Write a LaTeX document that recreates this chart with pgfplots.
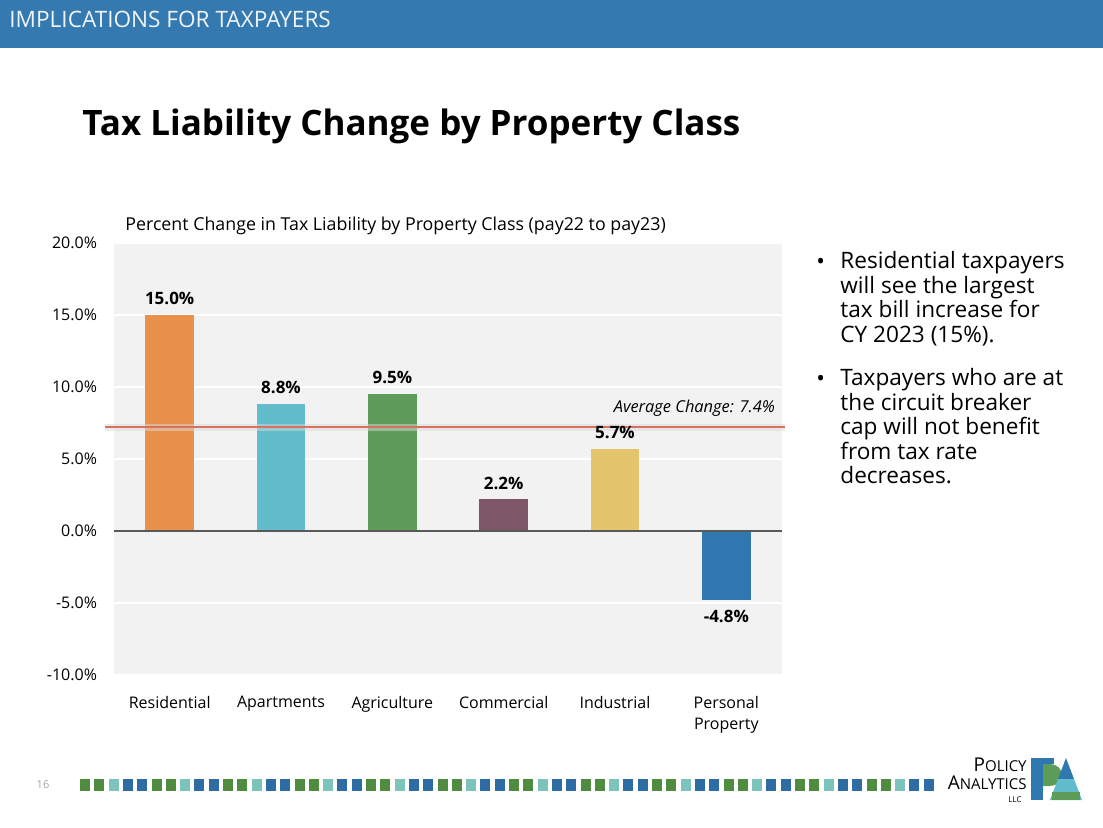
\documentclass[border=0pt]{standalone}
\usepackage{pgfplots}
\pgfplotsset{compat=1.18}
\usepackage{fontspec}
\setmainfont{Open Sans}
\definecolor{hdr}{HTML}{3479AF}
\definecolor{plotbg}{HTML}{F2F2F2}
\definecolor{cres}{HTML}{E9914A}
\definecolor{capt}{HTML}{62BCCB}
\definecolor{cagr}{HTML}{5E9C5A}
\definecolor{ccom}{HTML}{7D5767}
\definecolor{cind}{HTML}{E3C56C}
\definecolor{cper}{HTML}{2F77AF}
\definecolor{cavg}{HTML}{D6735F}
\definecolor{czero}{HTML}{595959}
\definecolor{sq0}{HTML}{4F8C3F}
\definecolor{sq1}{HTML}{4F8C3F}
\definecolor{sq2}{HTML}{7CC3BB}
\definecolor{sq3}{HTML}{2E6DA4}
\definecolor{sq4}{HTML}{2E6DA4}
\definecolor{pblue}{HTML}{2F77AF}
\definecolor{pgreen}{HTML}{5E9C5A}
\definecolor{pteal}{HTML}{62BCCB}
\pgfplotsset{
  mybar/.style={ybar, bar width=0.44, bar shift=0pt, fill=#1, draw=none,
    nodes near coords, point meta=explicit symbolic,
    nodes near coords style={font=\fontsize{8.5}{10}\selectfont\bfseries, text=black, yshift=1.5pt}},
}
\begin{document}
\begin{tikzpicture}
\begin{scope}[x=0.5pt,y=-0.5pt]
\fill[white] (0,0) rectangle (1103,828);
\fill[hdr] (0,0) rectangle (1103,48);
\node[anchor=base west, text=white!92!hdr, font=\fontsize{11.3}{12}\selectfont, inner sep=0pt] at (9,28) {IMPLICATIONS FOR TAXPAYERS};
\node[anchor=base west, font=\fontsize{17.5}{20}\selectfont\bfseries, inner sep=0pt] at (82,136) {Tax Liability Change by Property Class};
\node[anchor=base west, font=\fontsize{8.9}{10}\selectfont, inner sep=0pt] at (125,231) {Percent Change in Tax Liability by Property Class (pay22 to pay23)};
% bullets
\node[anchor=base west, font=\fontsize{11.5}{12.25}\selectfont, inner sep=0pt] at (816,270) {•};
\node[anchor=north west, align=left, font=\fontsize{11.3}{12.25}\selectfont, inner sep=0pt] at (840,251) {Residential taxpayers\\will see the largest\\tax bill increase for\\CY 2023 (15\%).};
\node[anchor=base west, font=\fontsize{11.5}{12.25}\selectfont, inner sep=0pt] at (816,387) {•};
\node[anchor=north west, align=left, font=\fontsize{11.3}{12.25}\selectfont, inner sep=0pt] at (840,368) {Taxpayers who are at\\the circuit breaker\\cap will not benefit\\from tax rate\\decreases.};
% footer
\node[anchor=center, text=gray!70, font=\fontsize{5.5}{6}\selectfont] at (43,785) {16};
\foreach \i in {0,...,59} {
  \pgfmathtruncatemacro\m{mod(\i,5)}
  \fill[sq\m] ({80+14.3*\i},779) rectangle ({90+14.3*\i},791);
}
% logo
\node[anchor=base east, inner sep=0pt, font=\fontsize{9.5}{10}\selectfont] at (1027,771) {P\fontsize{7.5}{8}\selectfont OLICY};
\node[anchor=base east, inner sep=0pt, font=\fontsize{9.5}{10}\selectfont] at (1027,789) {A\fontsize{7.5}{8}\selectfont NALYTICS};
\node[anchor=base east, inner sep=0pt, font=\fontsize{4}{4}\selectfont] at (1022,802) {LLC};
\fill[pblue] (1031,758) rectangle (1043,800);
\fill[pblue] (1031,758) rectangle (1054,764);
\fill[pgreen] (1043,764) -- (1050,764) arc[start angle=-90, end angle=90, x radius=12, y radius=11] -- (1043,786) -- cycle;
\fill[pblue] (1058,779) -- (1066,758) -- (1074,779) -- cycle;
\fill[pteal] (1050,800) -- (1058,779) -- (1074,779) -- (1082,800) -- cycle;
\fill[pgreen] (1052,792) rectangle (1080,800);
\end{scope}
\begin{axis}[
  at={(57pt,-337.5pt)}, anchor=south west,
  scale only axis, width=334pt, height=216pt,
  xmin=-0.5, xmax=5.5, ymin=-10, ymax=20,
  clip=false,
  axis background/.style={fill=plotbg},
  axis line style={draw=none},
  major tick length=0pt,
  tick style={draw=none},
  ymajorgrids, grid style={white, line width=1pt},
  ytick={-10,-5,0,5,10,15,20},
  yticklabels={-10.0\%,-5.0\%,0.0\%,5.0\%,10.0\%,15.0\%,20.0\%},
  yticklabel style={font=\fontsize{8}{9}\selectfont, xshift=-5pt},
  xtick={0,1,2,3,4,5},
  xticklabels={Residential,Apartments,Agriculture,Commercial,Industrial,Personal\\Property},
  xticklabel style={font=\fontsize{8}{10.8}\selectfont, align=center, anchor=north, yshift=-7pt},
]
\addplot[mybar=cres] coordinates {(0,15.0) [15.0\%]};
\addplot[mybar=capt] coordinates {(1,8.8) [8.8\%]};
\addplot[mybar=cagr] coordinates {(2,9.5) [9.5\%]};
\addplot[mybar=ccom] coordinates {(3,2.2) [2.2\%]};
\addplot[mybar=cind] coordinates {(4,5.7) [5.7\%]};
\addplot[mybar=cper, nodes near coords style={anchor=north, yshift=-3pt}] coordinates {(5,-4.8) [-4.8\%]};
\addplot[czero, line width=1pt, forget plot] coordinates {(-0.5,0) (5.5,0)};
\addplot[gray!30, line width=3.5pt, forget plot, opacity=0.5] coordinates {(-0.58,7.2) (5.53,7.2)};
\addplot[cavg, line width=1pt, forget plot] coordinates {(-0.58,7.2) (5.53,7.2)};
\node[anchor=base east, inner sep=0pt, font=\fontsize{8.2}{9}\selectfont\itshape] at (axis cs:5.44,8.2) {Average Change: 7.4\%};
\end{axis}
\end{tikzpicture}
\end{document}
